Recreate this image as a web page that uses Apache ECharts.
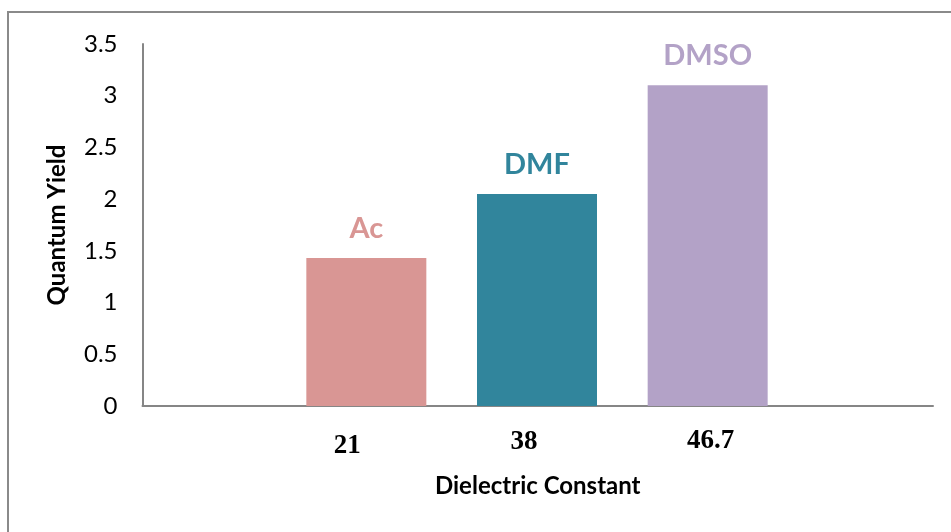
<!DOCTYPE html>
<html>
<head>
<meta charset="utf-8">
<script src="https://cdn.jsdelivr.net/npm/echarts@6/dist/echarts.min.js"></script>
<style>
  html, body { margin: 0; padding: 0; background: #ffffff; }
  #chart { width: 951px; height: 532px; }
</style>
</head>
<body>
<div id="chart"></div>
<script>
// Solvents, their dielectric constants and measured quantum yields
const solvents = ['Ac', 'DMF', 'DMSO'];
const dielectric = ['21', '38', '46.7'];
const quantumYield = [1.43, 2.05, 3.1];
const barColors = ['#D99694', '#31859C', '#B3A2C7'];
const yTicks = { min: 0, max: 3.5, interval: 0.5 };

// small per-label nudges of the tick texts under the bars
const tickNudge = [
  { padding: [5, 38, 0, 0] },
  { padding: [1, 26, 0, 0] },
  { padding: [0, 0, 0, 6] }
];

const sansFont = 'Lato, "Open Sans", sans-serif';
const chart = echarts.init(document.getElementById('chart'), null, { renderer: 'canvas' });

const rich = {};
tickNudge.forEach((n, i) => {
  rich['t' + i] = {
    fontFamily: '"Liberation Serif", "Times New Roman", serif',
    fontWeight: 'bold',
    fontSize: 27,
    color: '#000000',
    padding: n.padding
  };
});

chart.setOption({
  animation: false,
  backgroundColor: '#ffffff',
  graphic: [{
    type: 'rect',
    silent: true,
    shape: { x: 8, y: 12, width: 1000, height: 600 },
    style: { fill: 'none', stroke: '#8a8a8a', lineWidth: 2 }
  }],
  grid: [
    // frame grid carrying the value axis and the long baseline
    { left: 142.5, right: 18, top: 44, bottom: 126 },
    // bar grid, narrower so the three bars sit in the middle of the frame
    { left: 281, right: 158, top: 44, bottom: 126 }
  ],
  xAxis: [
    {
      gridIndex: 0, type: 'value', min: 0, max: 1,
      axisLine: { show: true, lineStyle: { color: '#868686', width: 2 } },
      axisTick: { show: false }, axisLabel: { show: false }, splitLine: { show: false },
      name: 'Dielectric Constant',
      nameLocation: 'middle',
      nameGap: 68,
      nameTextStyle: { fontFamily: sansFont, fontWeight: 'bold', fontSize: 24, color: '#000000' }
    },
    {
      gridIndex: 1, type: 'category', data: dielectric,
      axisLine: { show: false }, axisTick: { show: false }, splitLine: { show: false },
      axisLabel: {
        margin: 22,
        formatter: (v, i) => '{t' + i + '|' + v + '}',
        rich: rich
      }
    }
  ],
  yAxis: [
    {
      gridIndex: 0, type: 'value',
      min: yTicks.min, max: yTicks.max, interval: yTicks.interval,
      axisLine: { show: true, lineStyle: { color: '#868686', width: 2 } },
      axisTick: { show: false },
      splitLine: { show: false },
      axisLabel: { fontFamily: sansFont, fontSize: 24, color: '#000000', margin: 25 },
      name: 'Quantum Yield',
      nameLocation: 'middle',
      nameGap: 73,
      nameTextStyle: { fontFamily: sansFont, fontWeight: 'bold', fontSize: 24, color: '#000000' }
    },
    {
      gridIndex: 1, type: 'value',
      min: yTicks.min, max: yTicks.max, interval: yTicks.interval,
      show: false
    }
  ],
  series: [{
    type: 'bar',
    xAxisIndex: 1,
    yAxisIndex: 1,
    barWidth: 120,
    data: quantumYield.map((v, i) => ({
      value: v,
      itemStyle: { color: barColors[i] },
      label: { color: barColors[i] }
    })),
    label: {
      show: true,
      position: 'top',
      distance: 15,
      fontFamily: sansFont,
      fontWeight: 'bold',
      fontSize: 29,
      formatter: p => solvents[p.dataIndex]
    }
  }]
});
</script>
</body>
</html>
